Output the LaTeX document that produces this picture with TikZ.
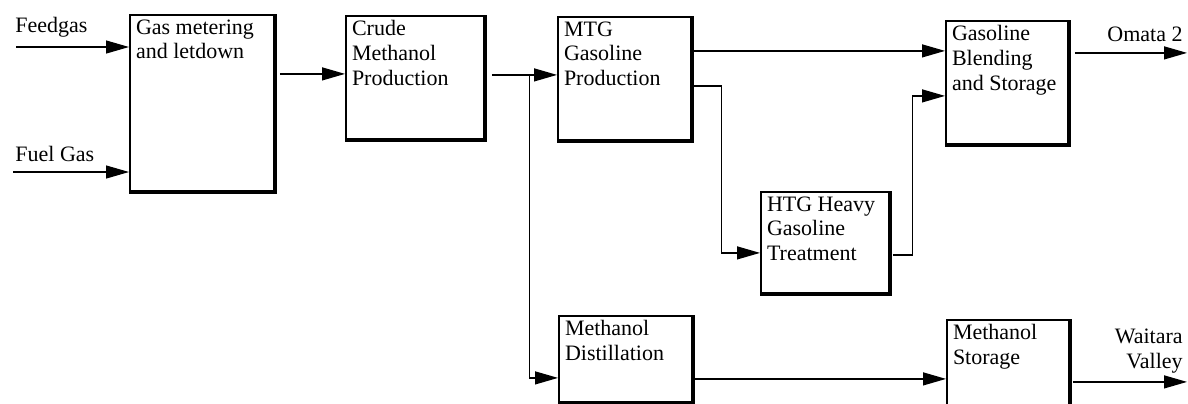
\documentclass[tikz,border=0pt]{standalone}
\usepackage{fontspec}
\setmainfont{Liberation Serif}
\usetikzlibrary{arrows.meta}

\begin{document}
\begin{tikzpicture}[x=0.5pt, y=-0.5pt,
	unit/.style={draw, line width=0.9pt, anchor=north west, inner sep=0pt},
	lbl/.style={anchor=north west, align=left, inner xsep=3.3pt, inner ysep=2.6pt, font=\fontsize{11}{12.4}\selectfont},
	txt/.style={inner sep=0pt, font=\fontsize{11}{12.4}\selectfont},
	flow/.style={line width=0.6pt, -{Triangle[length=11.5pt,width=6.5pt]}}]
	\useasboundingbox (0,0) rectangle (1188,403);
	% process units
	\node[unit, minimum width=72pt, minimum height=88pt, label={[lbl]north west:{Gas metering\\and letdown}}] (gas) at (129,14) {};
	\node[unit, minimum width=69pt, minimum height=61.5pt, label={[lbl]north west:{Crude\\Methanol\\Production}}] (crude) at (345,15) {};
	\node[unit, minimum width=66.5pt, minimum height=61.5pt, label={[lbl]north west:{MTG\\Gasoline\\Production}}] (mtg) at (557,16) {};
	\node[unit, minimum width=64pt, minimum height=50.5pt, label={[lbl]north west:{HTG Heavy\\Gasoline\\Treatment}}] (htg) at (760,191) {};
	\node[unit, minimum width=61pt, minimum height=61.5pt, label={[lbl]north west:{Gasoline\\Blending\\and Storage}}] (blend) at (945,20) {};
	\node[unit, minimum width=66.5pt, minimum height=43pt, label={[lbl]north west:{Methanol\\Distillation}}] (dist) at (558,315) {};
	\node[unit, minimum width=61pt, minimum height=44pt, label={[lbl]north west:{Methanol\\Storage}}] (store) at (946,319) {};
	\foreach \b in {gas,crude,mtg,htg,blend,dist,store}
		\draw[line width=2pt] (\b.north east) -- (\b.south east) -- (\b.south west);
	% stream names
	\node[txt, anchor=west] (feedlbl) at (15,27) {Feedgas};
	\node[txt, anchor=west] (fuellbl) at (15,154) {Fuel Gas};
	\node[txt] (omatalbl) at (1145,34) {Omata 2};
	\node[txt, anchor=east, align=right] (waitlbl) at (1183,351) {Waitara\\Valley};
	% streams
	\coordinate (feedin) at (16,47);
	\coordinate (fuelin) at (13,172);
	\coordinate (omata) at (1187,52);
	\coordinate (waitara) at (1187,381);
	\coordinate (gasout) at ([xshift=2.5pt,yshift=14.5pt]gas.east);
	\coordinate (crudeout) at ([xshift=3.5pt,yshift=1.25pt]crude.east);
	\coordinate (split) at ([xshift=19pt]crudeout);
	\coordinate (distin) at ([yshift=-9.5pt]dist.west);
	\coordinate (mtghi) at ([xshift=1pt,yshift=13.75pt]mtg.east);
	\coordinate (mtglo) at ([xshift=1pt,yshift=-3.75pt]mtg.east);
	\coordinate (htgin) at ([yshift=-5.25pt]htg.west);
	\coordinate (htgout) at ([xshift=1.5pt,yshift=-6.25pt]htg.east);
	\coordinate (blendlo) at ([yshift=-6.75pt]blend.west);
	\coordinate (blendout) at ([xshift=3pt,yshift=14.75pt]blend.east);
	\coordinate (distout) at ([xshift=1pt,yshift=-10pt]dist.east);
	\coordinate (storeout) at ([xshift=1.5pt,yshift=-9pt]store.east);
	\draw[flow] (feedin) -- (feedin -| gas.west);
	\draw[flow] (fuelin) -- (fuelin -| gas.west);
	\draw[flow] (gasout) -- (gasout -| crude.west);
	\draw[flow] (crudeout) -- (crudeout -| mtg.west);
	\draw[flow] (split) |- (distin);
	\draw[flow] (mtghi) -- (mtghi -| blend.west);
	\draw[flow] (mtglo) -- ++(14pt,0) |- (htgin);
	\draw[flow] (htgout) -- ++(10pt,0) |- (blendlo);
	\draw[flow] (blendout) -- (blendout -| omata);
	\draw[flow] (distout) -- (distout -| store.west);
	\draw[flow] (storeout) -- (storeout -| waitara);
\end{tikzpicture}
\end{document}
